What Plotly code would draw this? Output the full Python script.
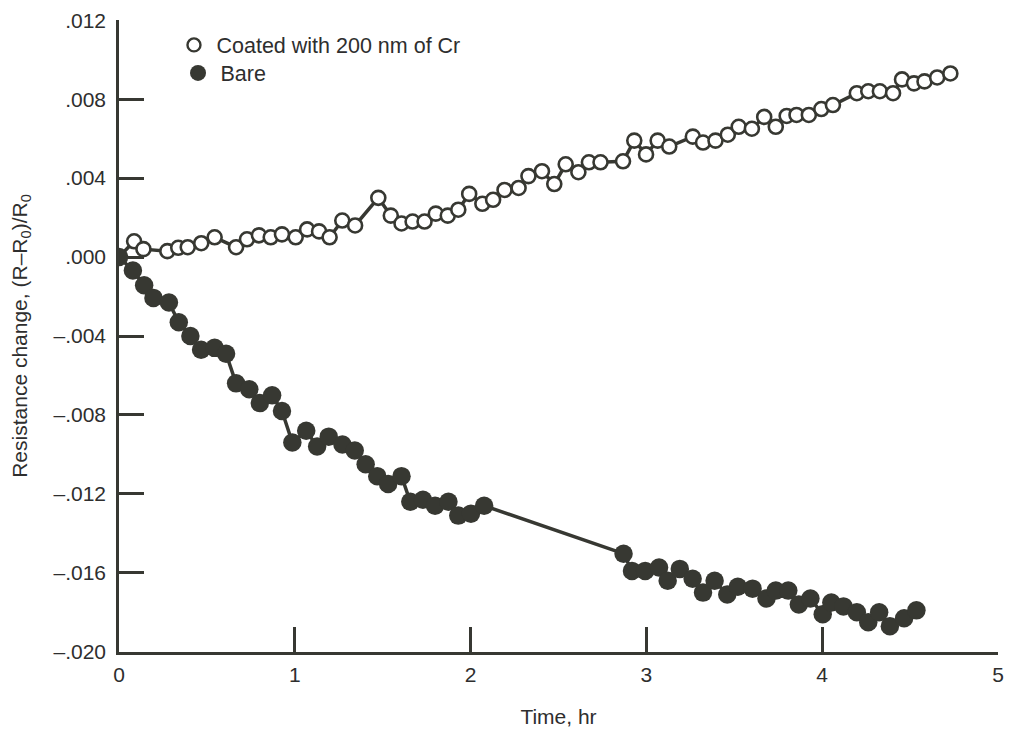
import plotly.graph_objects as go

# Coated with 200 nm of Cr (open circles)
coated_t = [0.0, 0.086, 0.139, 0.275, 0.337, 0.391, 0.468, 0.544, 0.666, 0.728, 0.796,
            0.863, 0.927, 1.005, 1.07, 1.138, 1.198, 1.27, 1.343, 1.475, 1.546, 1.607,
            1.67, 1.738, 1.802, 1.87, 1.93, 1.992, 2.067, 2.128, 2.193, 2.273, 2.329,
            2.406, 2.476, 2.541, 2.613, 2.673, 2.739, 2.867, 2.931, 2.998, 3.064, 3.13,
            3.264, 3.322, 3.393, 3.463, 3.525, 3.6, 3.67, 3.736, 3.798, 3.854, 3.924,
            3.995, 4.061, 4.197, 4.262, 4.328, 4.403, 4.454, 4.522, 4.582, 4.654, 4.729]
coated_r = [0.0, 0.0008, 0.0004, 0.0003, 0.00047, 0.0005, 0.0007, 0.001, 0.0005, 0.0009, 0.0011,
            0.001, 0.00115, 0.001, 0.0014, 0.0013, 0.001, 0.00185, 0.0016, 0.003, 0.0021, 0.0017,
            0.0018, 0.0018, 0.0022, 0.0021, 0.0024, 0.0032, 0.0027, 0.0029, 0.0034, 0.0035, 0.0041,
            0.00435, 0.0037, 0.0047, 0.0043, 0.0048, 0.0048, 0.00485, 0.0059, 0.0052, 0.0059, 0.0056,
            0.0061, 0.0058, 0.0059, 0.0062, 0.0066, 0.0065, 0.0071, 0.0066, 0.00715, 0.0072, 0.0072,
            0.0075, 0.0077, 0.0083, 0.0084, 0.0084, 0.0083, 0.009, 0.0088, 0.0089, 0.0091, 0.0093]

# Bare (filled circles)
bare_t = [0.0, 0.079, 0.143, 0.196, 0.284, 0.34, 0.406, 0.467, 0.544, 0.609, 0.666,
          0.741, 0.801, 0.871, 0.927, 0.986, 1.065, 1.127, 1.193, 1.271, 1.341, 1.403,
          1.469, 1.531, 1.607, 1.657, 1.729, 1.798, 1.874, 1.93, 2.002, 2.077, 2.87,
          2.918, 2.993, 3.072, 3.121, 3.19, 3.263, 3.322, 3.388, 3.46, 3.52, 3.604,
          3.683, 3.736, 3.807, 3.867, 3.933, 4.003, 4.052, 4.121, 4.197, 4.262, 4.324,
          4.385, 4.466, 4.536]
bare_r = [0.0, -0.00068, -0.00143, -0.00207, -0.0023, -0.0033, -0.004, -0.0047, -0.0046, -0.0049, -0.0064,
          -0.0067, -0.0074, -0.007, -0.0078, -0.0094, -0.0088, -0.0096, -0.0091, -0.0095, -0.0098, -0.0105,
          -0.0111, -0.0115, -0.0111, -0.0124, -0.0123, -0.0126, -0.0124, -0.0131, -0.013, -0.0126, -0.01503,
          -0.0159, -0.0159, -0.01573, -0.0164, -0.0158, -0.0163, -0.017, -0.0164, -0.0171, -0.0167, -0.0168,
          -0.0173, -0.0169, -0.0169, -0.0176, -0.0173, -0.0181, -0.0175, -0.0177, -0.018, -0.0185, -0.018,
          -0.0187, -0.0183, -0.0179]

y_tickvals = [0.012, 0.008, 0.004, 0.0, -0.004, -0.008, -0.012, -0.016, -0.020]
y_ticktext = [".012", ".008", ".004", ".000", "\u2013.004", "\u2013.008", "\u2013.012", "\u2013.016", "\u2013.020"]
x_tickvals = [0, 1, 2, 3, 4, 5]

INK = "#373832"
TXT = "#2e2e2e"
FONT = "Liberation Sans, Arial, sans-serif"

fig = go.Figure()
fig.add_trace(go.Scatter(
    x=coated_t, y=coated_r, mode="lines+markers", showlegend=False,
    line=dict(color=INK, width=3.5),
    marker=dict(symbol="circle", size=14, color="white", line=dict(color=INK, width=2.6)),
))
fig.add_trace(go.Scatter(
    x=bare_t, y=bare_r, mode="lines+markers", showlegend=False,
    line=dict(color=INK, width=3.5),
    marker=dict(symbol="circle", size=18.5, color=INK, line=dict(width=0)),
))
# legend entries (markers only)
fig.add_trace(go.Scatter(
    x=[None], y=[None], mode="markers", name="Coated with 200 nm of Cr", legend="legend",
    marker=dict(symbol="circle", size=13, color="white", line=dict(color=INK, width=2.4)),
))
fig.add_trace(go.Scatter(
    x=[None], y=[None], mode="markers", name="Bare", legend="legend2",
    marker=dict(symbol="circle", size=17, color=INK),
))

leg_common = dict(xanchor="left", yanchor="top", bgcolor="rgba(0,0,0,0)", borderwidth=0,
                  font=dict(size=21.5, color=TXT), itemsizing="trace", itemwidth=35)

# the page body adds an 8px offset; the figure is sized to compensate
fig.update_layout(
    width=1005, height=724,
    margin=dict(l=111, r=15, t=12, b=80, autoexpand=False),
    paper_bgcolor="white", plot_bgcolor="white",
    font=dict(family=FONT, size=21, color=TXT),
    showlegend=True,
    legend=dict(x=0.0597, y=0.993, **leg_common),
    legend2=dict(x=0.0643, y=0.9486, **leg_common),
    xaxis=dict(range=[0, 5], tickvals=x_tickvals, ticks="inside", ticklen=25, tickwidth=2.5,
               tickcolor=INK, showline=True, linecolor=INK, linewidth=2.5,
               showgrid=False, zeroline=False, ticklabelstandoff=2, automargin=False,
               ticklabeloverflow="allow",
               title=dict(text="Time, hr", standoff=25, font=dict(size=21))),
    yaxis=dict(range=[-0.02001, 0.01201], tickvals=y_tickvals, ticktext=y_ticktext,
               ticks="inside", ticklen=25, tickwidth=2.5, tickcolor=INK,
               showline=True, linecolor=INK, linewidth=2.5,
               showgrid=False, zeroline=False, ticklabelstandoff=6, automargin=False,
               ticklabeloverflow="allow",
               title=dict(text="Resistance change, (R\u2013R<sub>0</sub>)/R<sub>0</sub>",
                          standoff=26, font=dict(size=21))),
)

fig.write_html("out.html")
